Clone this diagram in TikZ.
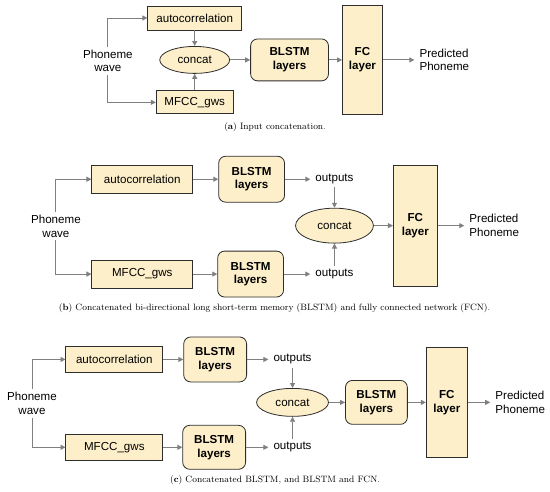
\documentclass[tikz,border=0pt]{standalone}
\usepackage{fontspec}
\usepackage{tikz}
\usetikzlibrary{shapes,arrows.meta}
\newfontfamily\sanslbl{Liberation Sans}
\definecolor{blockfill}{RGB}{253,239,201}
\definecolor{blockline}{RGB}{45,45,45}
\definecolor{linkgray}{RGB}{128,128,128}
\newcommand{\lblfont}{\sanslbl\fontsize{11.6}{13.8}\selectfont}
\newcommand{\capfont}{\fontsize{9.2}{11}\selectfont}
\newcommand{\picunit}{1pt}
\tikzstyle{block}=[draw=blockline,fill=blockfill,line width=0.8pt,inner sep=0pt,font=\lblfont]
\tikzstyle{Rblock}=[block,rounded corners=7pt,align=center,font=\lblfont\bfseries]
\tikzstyle{Fblock}=[block,align=center,font=\lblfont\bfseries]
\tikzstyle{Oblock}=[block,ellipse]
\tikzstyle{Ptext}=[font=\lblfont,inner xsep=5pt,inner ysep=3pt]
\tikzstyle{Link}=[draw=linkgray,line width=0.9pt,-{Triangle[length=5pt,width=5pt]}]
\tikzstyle{Subcap}=[font=\capfont,inner sep=0pt]
\tikzset{wh/.style 2 args={minimum width=#1pt,minimum height=#2pt}}

\begin{document}
\begin{tikzpicture}[x=\picunit,y=-\picunit]
    \path[fill=white] (0,0) rectangle (550,492);
    % (a)
    \node[Ptext,align=center] (waveA) at (108,61) {Phoneme\\wave};
    \node[block,wh={94}{24}] (auA) at (195,18) {autocorrelation};
    \node[block,wh={77}{23}] (mfA) at (195,102.5) {MFCC\_gws};
    \node[Oblock,wh={70}{27}] (catA) at (195,60) {concat};
    \node[Rblock,wh={78}{42}] (blA) at (290,60) {BLSTM\\layers};
    \node[Fblock,wh={40}{109}] (fcA) at (363,60) {FC\\layer};
    \node[Ptext,anchor=west,align=left] (prA) at (415,60) {Predicted\\Phoneme};
    \draw[Link] (waveA) |- (auA);
    \draw[Link] (waveA) |- (mfA);
    \draw[Link] (auA) -- (catA);
    \draw[Link] (mfA) -- (catA);
    \draw[Link] (catA) -- (blA);
    \draw[Link] (blA) -- (fcA);
    \draw[Link] (fcA) -- (prA);
    \node[Subcap] (capA) at (275.5,127) {(\textbf{a}) Input concatenation.};
    % (b)
    \node[Ptext,align=center] (waveB) at (56,226.5) {Phoneme\\wave};
    \node[block,wh={101}{28}] (auB) at (142.5,179.5) {autocorrelation};
    \node[block,wh={101}{28}] (mfB) at (142.5,274.5) {MFCC\_gws};
    \node[Rblock,wh={66}{46}] (blB1) at (252,179.5) {BLSTM\\layers};
    \node[Rblock,wh={66}{46}] (blB2) at (251,274.5) {BLSTM\\layers};
    \node[Ptext] (outB1) at (335,179.5) {outputs};
    \node[Ptext] (outB2) at (335,274.5) {outputs};
    \node[Oblock,wh={78}{35}] (catB) at (335,226) {concat};
    \node[Fblock,wh={44}{121}] (fcB) at (416,226) {FC\\layer};
    \node[Ptext,anchor=west,align=left] (prB) at (465,226) {Predicted\\Phoneme};
    \draw[Link] (waveB) |- (auB);
    \draw[Link] (waveB) |- (mfB);
    \draw[Link] (auB) -- (blB1);
    \draw[Link] (mfB) -- (blB2);
    \draw[Link] (blB1) -- (outB1);
    \draw[Link] (blB2) -- (outB2);
    \draw[Link] (outB1) -- (catB);
    \draw[Link] (outB2) -- (catB);
    \draw[Link] (catB) -- (fcB);
    \draw[Link] (fcB) -- (prB);
    \node[Subcap] (capB) at (275,309) {(\textbf{b}) Concatenated bi-directional long short-term memory (BLSTM) and fully connected network (FCN).};
    % (c)
    \node[Ptext,align=center] (waveC) at (32,404) {Phoneme\\wave};
    \node[block,wh={97}{26}] (auC) at (114.5,360) {autocorrelation};
    \node[block,wh={97}{26}] (mfC) at (114.5,448) {MFCC\_gws};
    \node[Rblock,wh={63}{45}] (blC1) at (215.5,360) {BLSTM\\layers};
    \node[Rblock,wh={63}{44}] (blC2) at (214.5,448) {BLSTM\\layers};
    \node[Ptext] (outC1) at (293,360) {outputs};
    \node[Ptext] (outC2) at (293,448) {outputs};
    \node[Oblock,wh={72}{28}] (catC) at (293,403) {concat};
    \node[Rblock,wh={62}{44}] (blC3) at (377,403) {BLSTM\\layers};
    \node[Fblock,wh={41}{111}] (fcC) at (447.5,403) {FC\\layer};
    \node[Ptext,anchor=west,align=left] (prC) at (491,403) {Predicted\\Phoneme};
    \draw[Link] (waveC) |- (auC);
    \draw[Link] (waveC) |- (mfC);
    \draw[Link] (auC) -- (blC1);
    \draw[Link] (mfC) -- (blC2);
    \draw[Link] (blC1) -- (outC1);
    \draw[Link] (blC2) -- (outC2);
    \draw[Link] (outC1) -- (catC);
    \draw[Link] (outC2) -- (catC);
    \draw[Link] (catC) -- (blC3);
    \draw[Link] (blC3) -- (fcC);
    \draw[Link] (fcC) -- (prC);
    \node[Subcap] (capC) at (275.5,481) {(\textbf{c}) Concatenated BLSTM, and BLSTM and FCN.};
\end{tikzpicture}
\end{document}
